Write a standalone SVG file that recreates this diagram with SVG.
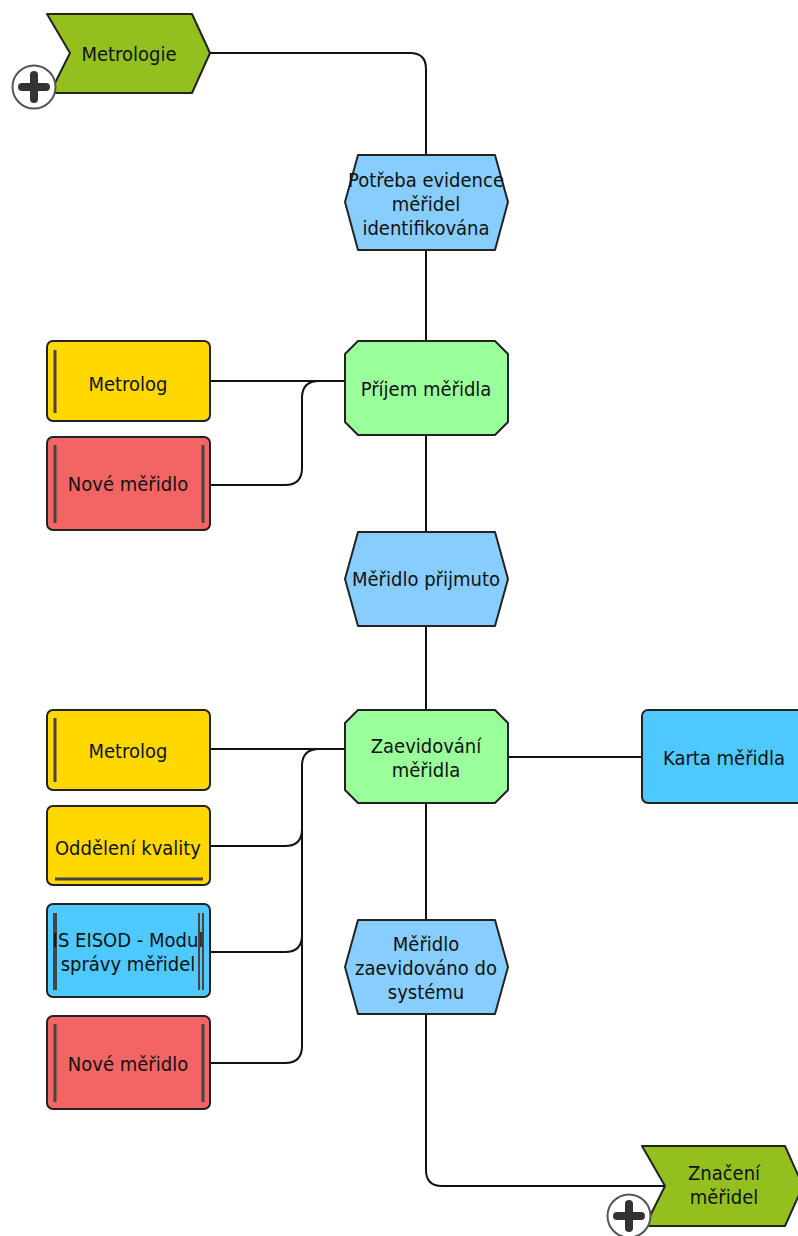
<svg xmlns="http://www.w3.org/2000/svg" width="798" height="1236" viewBox="0 0 798 1236">
  <style>
    text { font-family: "DejaVu Sans Condensed", "DejaVu Sans", Verdana, sans-serif; font-stretch: condensed; font-size: 20px; fill: #111; text-anchor: middle; }
    .shape { stroke: #222; stroke-width: 2; stroke-linejoin: round; }
    .event { fill: #87CEFF; }
    .func { fill: #9AFF9A; }
    .iface { fill: #93C01F; }
    .org { fill: #FFD800; }
    .obj { fill: #F36565; }
    .sys { fill: #4DC9FF; }
    .bar { stroke: #444; stroke-width: 3; fill: none; }
    .link { fill: none; stroke: #111; stroke-width: 2; }
    .plus-ring { fill: #fff; stroke: #555; stroke-width: 2; }
    .plus { stroke: #333; stroke-width: 8; stroke-linecap: round; }
  </style>
  <defs>
    <g id="expand">
      <circle class="plus-ring" cx="0" cy="0" r="21.5"/>
      <line class="plus" x1="-12" y1="0" x2="12" y2="0"/>
      <line class="plus" x1="0" y1="-12" x2="0" y2="12"/>
    </g>
  </defs>
  <rect width="798" height="1236" fill="#fff"/>

  <g id="connectors">
    <path class="link" d="M210,53 H410 Q426,53 426,69 V155"/>
    <line class="link" x1="426" y1="250" x2="426" y2="341"/>
    <line class="link" x1="426" y1="435" x2="426" y2="532"/>
    <line class="link" x1="426" y1="626" x2="426" y2="710"/>
    <line class="link" x1="426" y1="803" x2="426" y2="920"/>
    <path class="link" d="M426,1014 V1170 Q426,1186 442,1186 H664"/>
    <line class="link" x1="210" y1="381" x2="345" y2="381"/>
    <path class="link" d="M210,485 H285 Q302,485 302,468 V398 Q302,381 319,381 H345"/>
    <line class="link" x1="210" y1="749" x2="345" y2="749"/>
    <path class="link" d="M210,846 H285 Q302,846 302,829"/>
    <path class="link" d="M210,952 H285 Q302,952 302,935"/>
    <path class="link" d="M210,1063 H285 Q302,1063 302,1046 V766 Q302,749 319,749 H345"/>
    <line class="link" x1="508" y1="757" x2="642" y2="757"/>
  </g>

  <g id="metrologie">
    <path class="shape iface" d="M47,14 H192 L210,53 L192,93 H50 L70,53 Z"/>
    <text x="129" y="61">Metrologie</text>
    <use href="#expand" x="34" y="87"/>
  </g>

  <g id="ev-potreba">
    <path class="shape event" d="M358,155 H495 L508,202 L495,250 H358 L345,202 Z"/>
    <text x="426" y="187">Potřeba evidence</text>
    <text x="426" y="211">měřidel</text>
    <text x="426" y="235">identifikována</text>
  </g>

  <g id="fn-prijem">
    <path class="shape func" d="M358,341 H495 L508,354 V422 L495,435 H358 L345,422 V354 Z"/>
    <text x="426" y="396">Příjem měřidla</text>
  </g>

  <g id="org-metrolog-1">
    <rect class="shape org" x="47" y="341" width="163" height="80" rx="6"/>
    <line class="bar" x1="55" y1="350" x2="55" y2="413"/>
    <text x="128" y="391">Metrolog</text>
  </g>

  <g id="obj-nove-1">
    <rect class="shape obj" x="47" y="437" width="163" height="93" rx="6"/>
    <line class="bar" x1="55" y1="445" x2="55" y2="523"/>
    <line class="bar" x1="203" y1="445" x2="203" y2="523"/>
    <text x="128" y="491">Nové měřidlo</text>
  </g>

  <g id="ev-prijmuto">
    <path class="shape event" d="M358,532 H495 L508,579 L495,626 H358 L345,579 Z"/>
    <text x="426" y="586">Měřidlo přijmuto</text>
  </g>

  <g id="fn-zaevidovani">
    <path class="shape func" d="M358,710 H495 L508,723 V790 L495,803 H358 L345,790 V723 Z"/>
    <text x="426" y="753">Zaevidování</text>
    <text x="426" y="777">měřidla</text>
  </g>

  <g id="org-metrolog-2">
    <rect class="shape org" x="47" y="710" width="163" height="80" rx="6"/>
    <line class="bar" x1="55" y1="718" x2="55" y2="782"/>
    <text x="128" y="758">Metrolog</text>
  </g>

  <g id="org-kvalita">
    <rect class="shape org" x="47" y="806" width="163" height="79" rx="6"/>
    <line class="bar" x1="55" y1="879" x2="203" y2="879"/>
    <text x="128" y="855">Oddělení kvality</text>
  </g>

  <g id="sys-eisod">
    <rect class="shape sys" x="47" y="904" width="163" height="93" rx="6"/>
    <line class="bar" x1="55" y1="913" x2="55" y2="990" style="stroke-width:4"/>
    <line class="bar" x1="199" y1="913" x2="199" y2="990" style="stroke-width:2"/>
    <line class="bar" x1="203" y1="913" x2="203" y2="990" style="stroke-width:2"/>
    <text x="128" y="947">IS EISOD - Modul</text>
    <text x="128" y="971">správy měřidel</text>
  </g>

  <g id="obj-nove-2">
    <rect class="shape obj" x="47" y="1016" width="163" height="93" rx="6"/>
    <line class="bar" x1="55" y1="1024" x2="55" y2="1102"/>
    <line class="bar" x1="203" y1="1024" x2="203" y2="1102"/>
    <text x="128" y="1071">Nové měřidlo</text>
  </g>

  <g id="sys-karta">
    <rect class="shape sys" x="642" y="710" width="166" height="93" rx="6"/>
    <text x="724" y="765">Karta měřidla</text>
  </g>

  <g id="ev-zaevidovano">
    <path class="shape event" d="M358,920 H495 L508,967 L495,1014 H358 L345,967 Z"/>
    <text x="426" y="951">Měřidlo</text>
    <text x="426" y="975">zaevidováno do</text>
    <text x="426" y="999">systému</text>
  </g>

  <g id="znaceni">
    <path class="shape iface" d="M642,1146 H785 L803,1186 L785,1226 H645 L665,1186 Z"/>
    <text x="724" y="1180">Značení</text>
    <text x="724" y="1204">měřidel</text>
    <use href="#expand" x="629" y="1216"/>
  </g>
</svg>
